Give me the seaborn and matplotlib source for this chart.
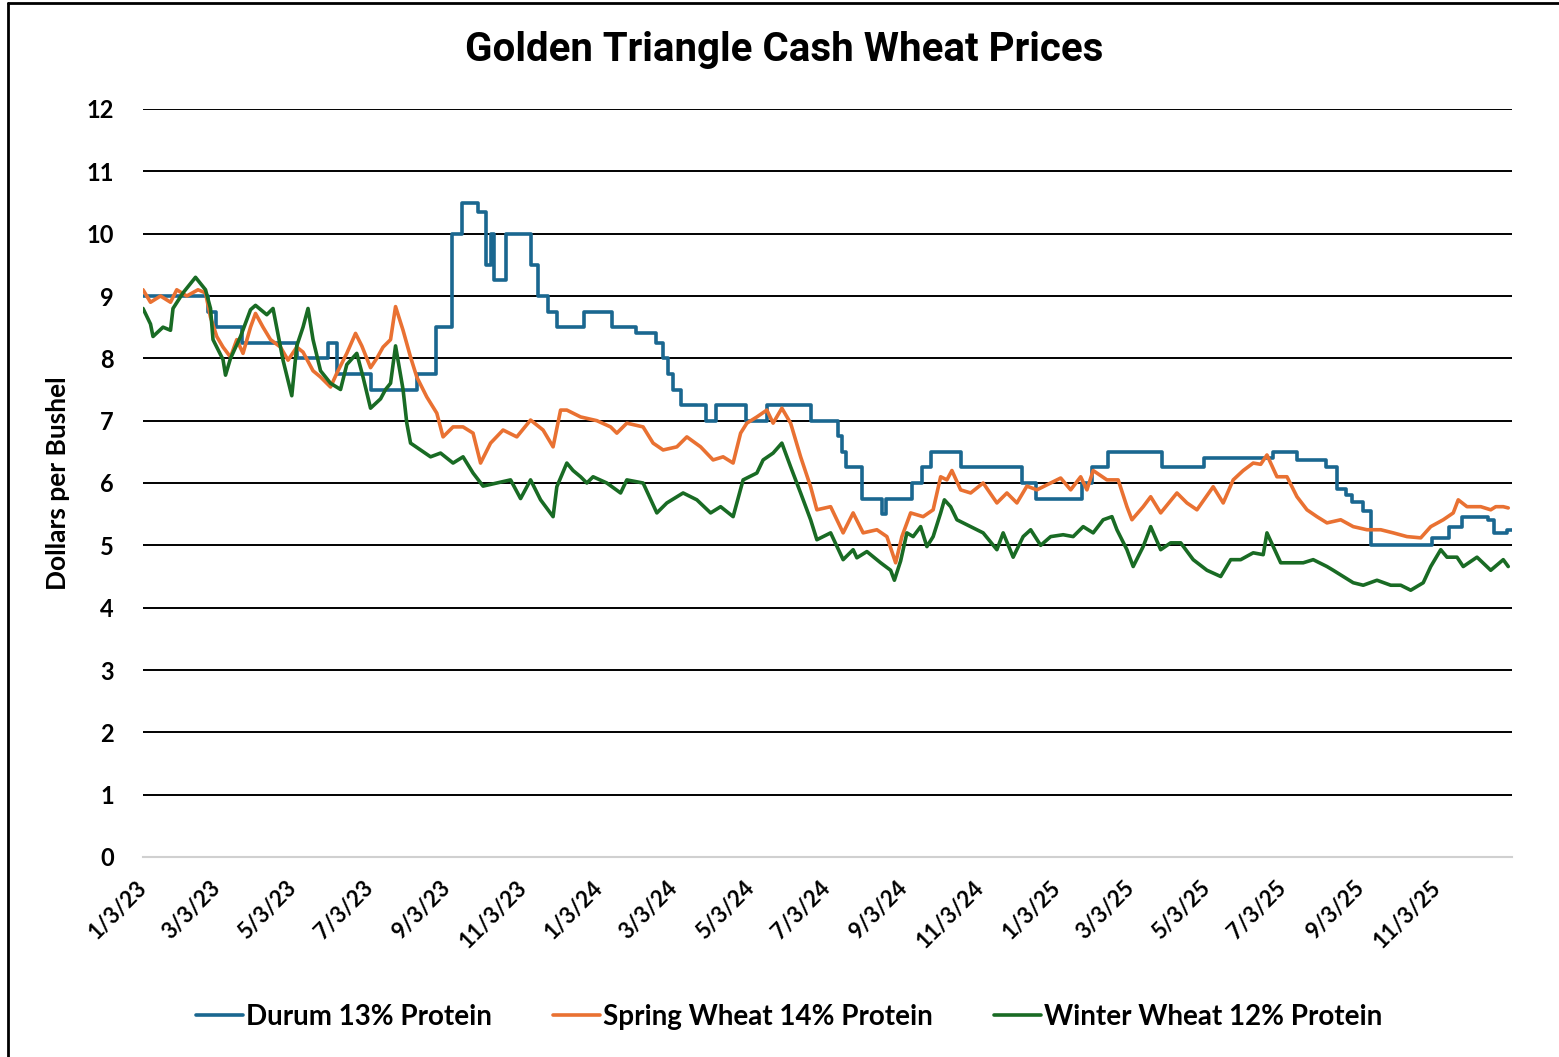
import pandas as pd
import matplotlib
matplotlib.use('Agg')
import matplotlib.pyplot as plt
from matplotlib.lines import Line2D
import seaborn as sns

# 数据：距 2023-01-03 的天数 + 价格（美元/蒲式耳）
start = pd.Timestamp('2023-01-03')

durum_day = [0, 52, 58, 79, 123, 148, 155, 182, 219, 234, 247, 255, 268, 274, 278, 281,
             290, 310, 316, 324, 331, 353, 375, 394, 410, 416, 420, 424, 430, 450, 458,
             482, 499, 534, 556, 559, 562, 575, 591, 594, 615, 623, 630, 654, 703, 714,
             751, 759, 772, 815, 849, 904, 923, 946, 955, 962, 967, 976, 982, 1031, 1045,
             1055, 1076, 1081, 1091, 1095]
durum_price = [9.0, 8.75, 8.5, 8.25, 8.0, 8.25, 7.75, 7.5, 7.75, 8.5, 10.0, 10.5, 10.35, 9.5, 10.0, 9.25,
               10.0, 9.5, 9.0, 8.75, 8.5, 8.75, 8.5, 8.4, 8.25, 8.0, 7.75, 7.5, 7.25, 7.0, 7.25,
               7.0, 7.25, 7.0, 6.75, 6.5, 6.25, 5.75, 5.5, 5.75, 6.0, 6.25, 6.5, 6.25, 6.0, 5.75,
               6.0, 6.25, 6.5, 6.25, 6.4, 6.5, 6.375, 6.25, 5.9, 5.8, 5.7, 5.55, 5.0, 5.125, 5.3,
               5.45, 5.4, 5.2, 5.25, 5.25]

spring_day = [0, 6, 14, 22, 27, 35, 44, 50, 54, 59, 64, 70, 75, 80, 86, 90, 96, 102, 110, 116,
              123, 128, 136, 142, 150, 155, 163, 170, 175, 182, 187, 192, 198, 202, 208, 214,
              219, 227, 235, 240, 248, 256, 264, 270, 278, 288, 299, 310, 320, 328, 334, 339,
              350, 363, 374, 379, 387, 400, 408, 416, 427, 435, 446, 456, 464, 472, 478, 483,
              491, 499, 504, 511, 518, 526, 534, 539, 550, 560, 568, 576, 587, 595, 602, 607,
              614, 624, 632, 638, 643, 647, 654, 662, 672, 683, 691, 699, 707, 715, 726, 734,
              742, 750, 755, 760, 771, 780, 787, 791, 800, 806, 814, 827, 835, 843, 856, 864,
              872, 880, 888, 894, 899, 907, 915, 923, 931, 939, 947, 958, 968, 979, 990, 1000,
              1011, 1022, 1030, 1040, 1048, 1052, 1059, 1070, 1078, 1082, 1088, 1092]
spring_price = [9.1, 8.9, 9.0, 8.9, 9.1, 9.0, 9.1, 9.05, 8.66, 8.35, 8.18, 8.02, 8.3, 8.08, 8.5, 8.72, 8.5, 8.3, 8.18, 7.97,
                8.18, 8.1, 7.8, 7.7, 7.54, 7.76, 8.08, 8.4, 8.2, 7.85, 8.0, 8.18, 8.3, 8.83, 8.45, 8.02,
                7.7, 7.38, 7.12, 6.74, 6.9, 6.9, 6.8, 6.32, 6.64, 6.85, 6.74, 7.01, 6.85, 6.58, 7.17, 7.17,
                7.06, 7.0, 6.9, 6.8, 6.96, 6.9, 6.64, 6.53, 6.58, 6.74, 6.58, 6.37, 6.42, 6.32, 6.8, 6.96,
                7.06, 7.17, 6.96, 7.2, 6.96, 6.42, 5.94, 5.57, 5.62, 5.2, 5.52, 5.2, 5.25, 5.14, 4.72, 5.14,
                5.52, 5.46, 5.57, 6.1, 6.05, 6.2, 5.89, 5.84, 6.0, 5.68, 5.84, 5.68, 5.95, 5.89, 6.0, 6.08,
                5.89, 6.1, 5.89, 6.2, 6.05, 6.05, 5.62, 5.41, 5.62, 5.78, 5.52, 5.84, 5.68, 5.57, 5.94, 5.68,
                6.05, 6.2, 6.32, 6.3, 6.45, 6.1, 6.1, 5.78, 5.57, 5.46, 5.36, 5.41, 5.3, 5.25, 5.25, 5.2,
                5.14, 5.12, 5.3, 5.41, 5.52, 5.73, 5.62, 5.62, 5.57, 5.62, 5.62, 5.6]

winter_day = [0, 6, 8, 16, 22, 24, 32, 42, 50, 54, 56, 64, 66, 70, 78, 86, 90, 99, 104, 112,
              119, 123, 128, 132, 136, 142, 150, 158, 163, 171, 176, 182, 190, 194, 198, 202,
              208, 211, 214, 222, 230, 238, 248, 256, 264, 272, 283, 294, 302, 310, 318, 328,
              331, 339, 344, 350, 355, 360, 371, 382, 387, 400, 411, 419, 432, 443, 454, 462,
              472, 480, 491, 496, 504, 511, 518, 526, 534, 539, 550, 560, 568, 571, 579, 590,
              598, 601, 606, 611, 616, 622, 627, 632, 638, 641, 646, 651, 662, 672, 683, 688,
              696, 704, 710, 718, 726, 736, 744, 752, 760, 768, 775, 779, 787, 792, 800, 806,
              814, 822, 830, 840, 851, 862, 870, 878, 888, 896, 899, 904, 910, 920, 928, 936,
              947, 952, 960, 968, 976, 987, 998, 1006, 1014, 1024, 1030, 1038, 1043, 1051, 1056,
              1067, 1078, 1088, 1092]
winter_price = [8.8, 8.55, 8.35, 8.5, 8.45, 8.8, 9.05, 9.3, 9.1, 8.8, 8.3, 7.98, 7.73, 8.0, 8.35, 8.78, 8.85, 8.7, 8.8, 7.97,
                7.4, 8.2, 8.5, 8.8, 8.3, 7.8, 7.6, 7.5, 7.9, 8.08, 7.7, 7.2, 7.35, 7.5, 7.6, 8.2,
                7.5, 6.96, 6.64, 6.53, 6.42, 6.48, 6.32, 6.42, 6.16, 5.95, 6.0, 6.05, 5.75, 6.05, 5.73, 5.46,
                5.94, 6.32, 6.2, 6.1, 6.0, 6.1, 6.0, 5.84, 6.05, 6.0, 5.52, 5.68, 5.84, 5.73, 5.52, 5.62,
                5.46, 6.05, 6.16, 6.37, 6.48, 6.64, 6.26, 5.84, 5.41, 5.09, 5.2, 4.77, 4.93, 4.8, 4.9, 4.72,
                4.6, 4.44, 4.75, 5.2, 5.14, 5.3, 4.98, 5.14, 5.52, 5.73, 5.62, 5.41, 5.3, 5.2, 4.93, 5.2,
                4.81, 5.14, 5.25, 5.0, 5.14, 5.17, 5.14, 5.3, 5.2, 5.41, 5.46, 5.25, 4.93, 4.66, 4.98, 5.3,
                4.93, 5.04, 5.04, 4.77, 4.6, 4.5, 4.77, 4.77, 4.88, 4.85, 5.2, 4.98, 4.72, 4.72, 4.72, 4.77,
                4.66, 4.6, 4.5, 4.4, 4.36, 4.44, 4.36, 4.36, 4.28, 4.4, 4.66, 4.93, 4.81, 4.81, 4.66,
                4.81, 4.6, 4.77, 4.66]

series_names = ['Durum 13% Protein', 'Spring Wheat 14% Protein', 'Winter Wheat 12% Protein']
colors = ['#1a6790', '#e97132', '#196b24']
tick_dates = ['2023-01-03', '2023-03-03', '2023-05-03', '2023-07-03', '2023-09-03', '2023-11-03',
              '2024-01-03', '2024-03-03', '2024-05-03', '2024-07-03', '2024-09-03', '2024-11-03',
              '2025-01-03', '2025-03-03', '2025-05-03', '2025-07-03', '2025-09-03', '2025-11-03']


def to_frame(days, prices):
    return pd.DataFrame({'Date': start + pd.to_timedelta(days, unit='D'), 'Price': prices})


sns.set_style('white')
plt.rcParams['font.family'] = ['Lato', 'DejaVu Sans']
plt.rcParams['font.weight'] = 'bold'
for key in ['text.color', 'axes.labelcolor', 'xtick.labelcolor', 'ytick.labelcolor']:
    plt.rcParams[key] = 'black'

fig = plt.figure(figsize=(15.59, 10.57), dpi=100)
ax = fig.add_axes([143 / 1559, 1 - 857 / 1057, (1512 - 143) / 1559, (857 - 109) / 1057])

frames = [to_frame(durum_day, durum_price), to_frame(spring_day, spring_price), to_frame(winter_day, winter_price)]
styles = ['steps-post', 'default', 'default']
for df, c, ds in zip(frames, colors, styles):
    sns.lineplot(data=df, x='Date', y='Price', color=c, linewidth=2.6, drawstyle=ds,
                 estimator=None, legend=False, ax=ax)

ax.set_ylim(0, 12)
ax.set_yticks(range(0, 13))
ax.set_xlim(start, start + pd.Timedelta(days=1095))
ax.yaxis.grid(True, color='black', linewidth=1.4)
ax.get_ygridlines()[0].set_visible(False)

ticks = pd.to_datetime(tick_dates)
ax.set_xticks(ticks)
ax.set_xticklabels([f'{d.month}/{d.day}/{d.strftime("%y")}' for d in ticks],
                   rotation=45, ha='right', va='center', rotation_mode='anchor')

for s in ['top', 'right', 'left']:
    ax.spines[s].set_visible(False)
ax.spines['bottom'].set_color('#d0d0d0')
ax.spines['bottom'].set_linewidth(1.5)
ax.tick_params(axis='x', direction='out', length=8, width=1.2, color='#d0d0d0',
               labelcolor='black', labelsize=16, pad=12)
ax.tick_params(axis='y', length=0, labelcolor='black', labelsize=17, pad=21)
ax.set_xlabel('')
ax.set_ylabel('Dollars per Bushel', fontsize=19, fontweight='bold', labelpad=12, color='black')

fig.text(0.503, 0.953, 'Golden Triangle Cash Wheat Prices', ha='center', va='center',
         fontsize=29, fontweight='bold', color='black', family=['Roboto', 'DejaVu Sans'])

handles = [Line2D([0], [0], color=c, linewidth=2.6) for c in colors]
leg = fig.legend(handles, series_names, loc='center', bbox_to_anchor=(0.506, 0.038), ncol=3,
                 frameon=False, handlelength=1.7, handletextpad=0.1,
                 columnspacing=2.2, prop={'weight': 'bold', 'size': 20})
for t in leg.get_texts():
    t.set_color('black')

# 截图外框
fig.add_artist(Line2D([8 / 1559, 8 / 1559], [0, 1 - 3 / 1057], color='black', linewidth=2))
fig.add_artist(Line2D([8 / 1559, 1], [1 - 3 / 1057, 1 - 3 / 1057], color='black', linewidth=2))

fig.savefig('out.png', dpi=100)
